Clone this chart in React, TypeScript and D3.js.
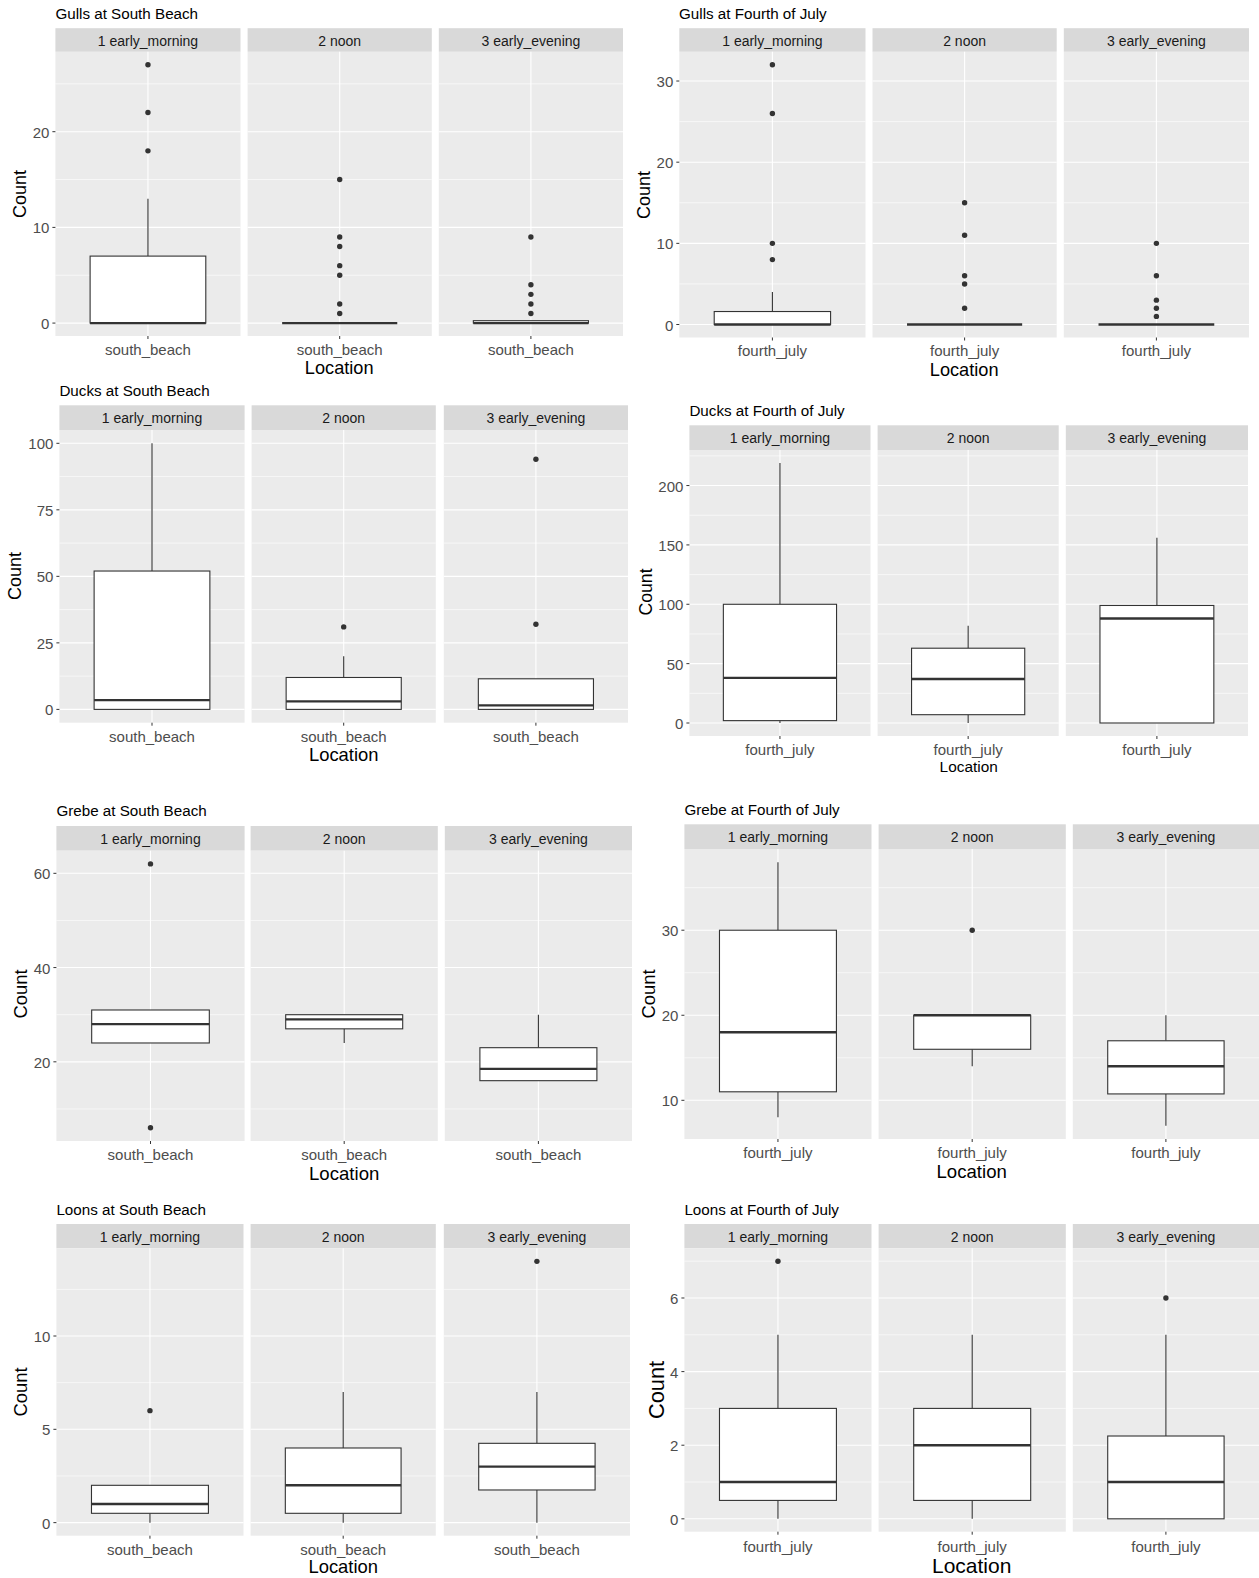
import React from "react";
import * as d3 from "d3";

// ---------- data ----------
const timeSlots = ["1 early_morning", "2 noon", "3 early_evening"];

const plotTitles = [
  "Gulls at South Beach",
  "Gulls at Fourth of July",
  "Ducks at South Beach",
  "Ducks at Fourth of July",
  "Grebe at South Beach",
  "Grebe at Fourth of July",
  "Loons at South Beach",
  "Loons at Fourth of July",
];

const plotLocations = [
  "south_beach", "fourth_july", "south_beach", "fourth_july",
  "south_beach", "fourth_july", "south_beach", "fourth_july",
];

// box stats per time slot: [lower whisker, Q1, median, Q3, upper whisker]
const gullsSouthBeachStats = [[0, 0, 0, 7, 13], [0, 0, 0, 0, 0], [0, 0, 0, 0.25, 0.25]];
const gullsSouthBeachOutliers = [[18, 22, 27], [1, 2, 5, 6, 8, 9, 15], [1, 2, 3, 4, 9]];
const gullsFourthStats = [[0, 0, 0, 1.6, 4], [0, 0, 0, 0, 0], [0, 0, 0, 0, 0]];
const gullsFourthOutliers = [[8, 10, 26, 32], [2, 5, 6, 11, 15], [1, 2, 3, 6, 10]];
const ducksSouthBeachStats = [[0, 0, 3.5, 52, 100], [0, 0, 3, 12, 20], [0, 0, 1.5, 11.5, 11.5]];
const ducksSouthBeachOutliers = [[], [31], [32, 94]];
const ducksFourthStats = [[0, 2, 38, 100, 219], [0, 7, 37, 63, 82], [0, 0, 88, 99, 156]];
const ducksFourthOutliers = [[], [], []];
const grebeSouthBeachStats = [[24, 24, 28, 31, 31], [24, 27, 29, 30, 30], [16, 16, 18.5, 23, 30]];
const grebeSouthBeachOutliers = [[6, 62], [], []];
const grebeFourthStats = [[8, 11, 18, 30, 38], [14, 16, 20, 20, 20], [7, 10.75, 14, 17, 20]];
const grebeFourthOutliers = [[], [30], []];
const loonsSouthBeachStats = [[0, 0.5, 1, 2, 2], [0, 0.5, 2, 4, 7], [0, 1.75, 3, 4.25, 7]];
const loonsSouthBeachOutliers = [[6], [], [14]];
const loonsFourthStats = [[0, 0.5, 1, 3, 5], [0, 0.5, 2, 3, 5], [0, 0, 1, 2.25, 5]];
const loonsFourthOutliers = [[7], [], [6]];

const gullsSouthBeachTicks = [0, 10, 20];
const gullsFourthTicks = [0, 10, 20, 30];
const ducksSouthBeachTicks = [0, 25, 50, 75, 100];
const ducksFourthTicks = [0, 50, 100, 150, 200];
const grebeSouthBeachTicks = [20, 40, 60];
const grebeFourthTicks = [10, 20, 30];
const loonsSouthBeachTicks = [0, 5, 10];
const loonsFourthTicks = [0, 2, 4, 6];

const allStats = [
  gullsSouthBeachStats, gullsFourthStats, ducksSouthBeachStats, ducksFourthStats,
  grebeSouthBeachStats, grebeFourthStats, loonsSouthBeachStats, loonsFourthStats,
];
const allOutliers = [
  gullsSouthBeachOutliers, gullsFourthOutliers, ducksSouthBeachOutliers, ducksFourthOutliers,
  grebeSouthBeachOutliers, grebeFourthOutliers, loonsSouthBeachOutliers, loonsFourthOutliers,
];
const allTicks = [
  gullsSouthBeachTicks, gullsFourthTicks, ducksSouthBeachTicks, ducksFourthTicks,
  grebeSouthBeachTicks, grebeFourthTicks, loonsSouthBeachTicks, loonsFourthTicks,
];

// ---------- layout (pixel geometry of each sub-plot) ----------
type Layout = {
  titleX: number; titleY: number;
  stripTop: number; stripBottom: number; panelBottom: number;
  panels: [number, number][];
  countX: number; countY: number; countSize: number;
  xlabY: number; locY: number; locSize: number;
};

const layouts: Layout[] = [
  { titleX: 55.4, titleY: 13.5, stripTop: 28.2, stripBottom: 51.8, panelBottom: 336,
    panels: [[55.4, 240.5], [247.6, 431.8], [438.8, 623]],
    countX: 20, countY: 194, countSize: 18, xlabY: 349.5, locY: 367.5, locSize: 18.2 },
  { titleX: 679, titleY: 13.5, stripTop: 28.2, stripBottom: 51.8, panelBottom: 337.5,
    panels: [[679.3, 865.5], [872.5, 1056.7], [1063.8, 1249]],
    countX: 644, countY: 195, countSize: 18, xlabY: 351, locY: 369.5, locSize: 18.2 },
  { titleX: 59.4, titleY: 390.5, stripTop: 405.3, stripBottom: 430, panelBottom: 722.7,
    panels: [[59.4, 244.6], [251.6, 435.8], [443.8, 628]],
    countX: 14.5, countY: 576, countSize: 18, xlabY: 736.5, locY: 755, locSize: 18.4 },
  { titleX: 689.4, titleY: 410.6, stripTop: 425.3, stripBottom: 450, panelBottom: 736,
    panels: [[689.4, 870.5], [877.6, 1058.7], [1065.8, 1248]],
    countX: 646, countY: 592, countSize: 17.7, xlabY: 749.5, locY: 767, locSize: 15.4 },
  { titleX: 56.4, titleY: 811, stripTop: 826, stripBottom: 850.7, panelBottom: 1141,
    panels: [[56.4, 244.6], [250.6, 437.8], [444.8, 632]],
    countX: 20.5, countY: 994, countSize: 18.4, xlabY: 1155, locY: 1173.5, locSize: 18.6 },
  { titleX: 684.4, titleY: 809.5, stripTop: 824.3, stripBottom: 849, panelBottom: 1139,
    panels: [[684.4, 871.5], [878.6, 1065.8], [1072.8, 1259]],
    countX: 649, countY: 994, countSize: 18.4, xlabY: 1153, locY: 1171.5, locSize: 18.6 },
  { titleX: 56.4, titleY: 1209.5, stripTop: 1224, stripBottom: 1248.3, panelBottom: 1535.7,
    panels: [[56.4, 243.5], [250.6, 435.8], [443.8, 630]],
    countX: 20.5, countY: 1392, countSize: 18.4, xlabY: 1549.5, locY: 1567, locSize: 18.4 },
  { titleX: 684.4, titleY: 1209.5, stripTop: 1224, stripBottom: 1248.3, panelBottom: 1531.7,
    panels: [[684.4, 871.5], [878.6, 1065.8], [1072.8, 1259]],
    countX: 656, countY: 1390, countSize: 21.8, xlabY: 1546.5, locY: 1566, locSize: 21 },
];

const FONT = "'Liberation Sans', Arial, Helvetica, sans-serif";
const BOX_WIDTH = 0.75; // in category units, x range expanded by 0.6 each side

function SubPlot({ idx }: { idx: number }) {
  const L = layouts[idx];
  const stats = allStats[idx];
  const outs = allOutliers[idx];
  const ticks = allTicks[idx];
  const loc = plotLocations[idx];

  const values: number[] = [];
  stats.forEach((s) => values.push(...s));
  outs.forEach((o) => values.push(...o));
  const [vmin, vmax] = d3.extent(values) as [number, number];
  const pad = (vmax - vmin) * 0.05;
  const y = d3.scaleLinear().domain([vmin - pad, vmax + pad]).range([L.panelBottom, L.stripBottom]);

  const dom = y.domain();
  const step = ticks[1] - ticks[0];
  const minors: number[] = [];
  for (let v = ticks[0] - step / 2; v <= dom[1]; v += step) {
    if (v >= dom[0]) minors.push(v);
  }

  const panelsSpan = [L.panels[0][0], L.panels[L.panels.length - 1][1]];

  return (
    <g>
      <text x={L.titleX} y={L.titleY} dy="0.35em" fontSize={15.2} fill="#000" fontFamily={FONT}>
        {plotTitles[idx]}
      </text>
      {L.panels.map(([x0, x1], i) => {
        const x = d3.scaleLinear().domain([0.4, 1.6]).range([x0, x1]);
        const cx = x(1);
        const bl = x(1 - BOX_WIDTH / 2);
        const br = x(1 + BOX_WIDTH / 2);
        const [lo, q1, med, q3, hi] = stats[i];
        return (
          <g key={i}>
            <rect x={x0} y={L.stripTop} width={x1 - x0} height={L.stripBottom - L.stripTop} fill="#D9D9D9" />
            <text x={(x0 + x1) / 2} y={(L.stripTop + L.stripBottom) / 2} dy="0.4em" textAnchor="middle"
              fontSize={14} fill="#1A1A1A" fontFamily={FONT}>{timeSlots[i]}</text>
            <rect x={x0} y={L.stripBottom} width={x1 - x0} height={L.panelBottom - L.stripBottom} fill="#EBEBEB" />
            {minors.map((m) => (
              <line key={"m" + m} x1={x0} x2={x1} y1={y(m)} y2={y(m)} stroke="#fff" strokeWidth={0.6} />
            ))}
            {ticks.map((t) => (
              <line key={"t" + t} x1={x0} x2={x1} y1={y(t)} y2={y(t)} stroke="#fff" strokeWidth={1.1} />
            ))}
            <line x1={cx} x2={cx} y1={L.stripBottom} y2={L.panelBottom} stroke="#fff" strokeWidth={1.1} />
            {hi > q3 && <line x1={cx} x2={cx} y1={y(hi)} y2={y(q3)} stroke="#333" strokeWidth={1.1} />}
            {lo < q1 && <line x1={cx} x2={cx} y1={y(q1)} y2={y(lo)} stroke="#333" strokeWidth={1.1} />}
            <rect x={bl} y={y(q3)} width={br - bl} height={Math.max(0, y(q1) - y(q3))} fill="#fff" stroke="#333" strokeWidth={1.1} />
            <line x1={bl} x2={br} y1={y(med)} y2={y(med)} stroke="#333" strokeWidth={2.4} />
            {outs[i].map((o, k) => (
              <circle key={k} cx={cx} cy={y(o)} r={2.7} fill="#333" />
            ))}
            <line x1={cx} x2={cx} y1={L.panelBottom} y2={L.panelBottom + 3} stroke="#333" strokeWidth={1} />
            <text x={cx} y={L.xlabY} dy="0.35em" textAnchor="middle" fontSize={15} fill="#4D4D4D" fontFamily={FONT}>
              {loc}
            </text>
          </g>
        );
      })}
      {ticks.map((t) => (
        <g key={"yt" + t}>
          <line x1={L.panels[0][0] - 3} x2={L.panels[0][0]} y1={y(t)} y2={y(t)} stroke="#333" strokeWidth={1} />
          <text x={L.panels[0][0] - 6} y={y(t)} dy="0.4em" textAnchor="end" fontSize={15} fill="#4D4D4D" fontFamily={FONT}>
            {t}
          </text>
        </g>
      ))}
      <text transform={`translate(${L.countX},${L.countY}) rotate(-90)`} dy="0.35em" textAnchor="middle"
        fontSize={L.countSize} fill="#000" fontFamily={FONT}>Count</text>
      <text x={(panelsSpan[0] + panelsSpan[1]) / 2} y={L.locY} dy="0.35em" textAnchor="middle"
        fontSize={L.locSize} fill="#000" fontFamily={FONT}>Location</text>
    </g>
  );
}

export default function App() {
  return (
    <svg width={1259} height={1578} style={{ position: "absolute", left: 0, top: 0, background: "#fff" }}>
      <rect x={0} y={0} width={1259} height={1578} fill="#fff" />
      {plotTitles.map((_, i) => (
        <SubPlot key={i} idx={i} />
      ))}
    </svg>
  );
}
